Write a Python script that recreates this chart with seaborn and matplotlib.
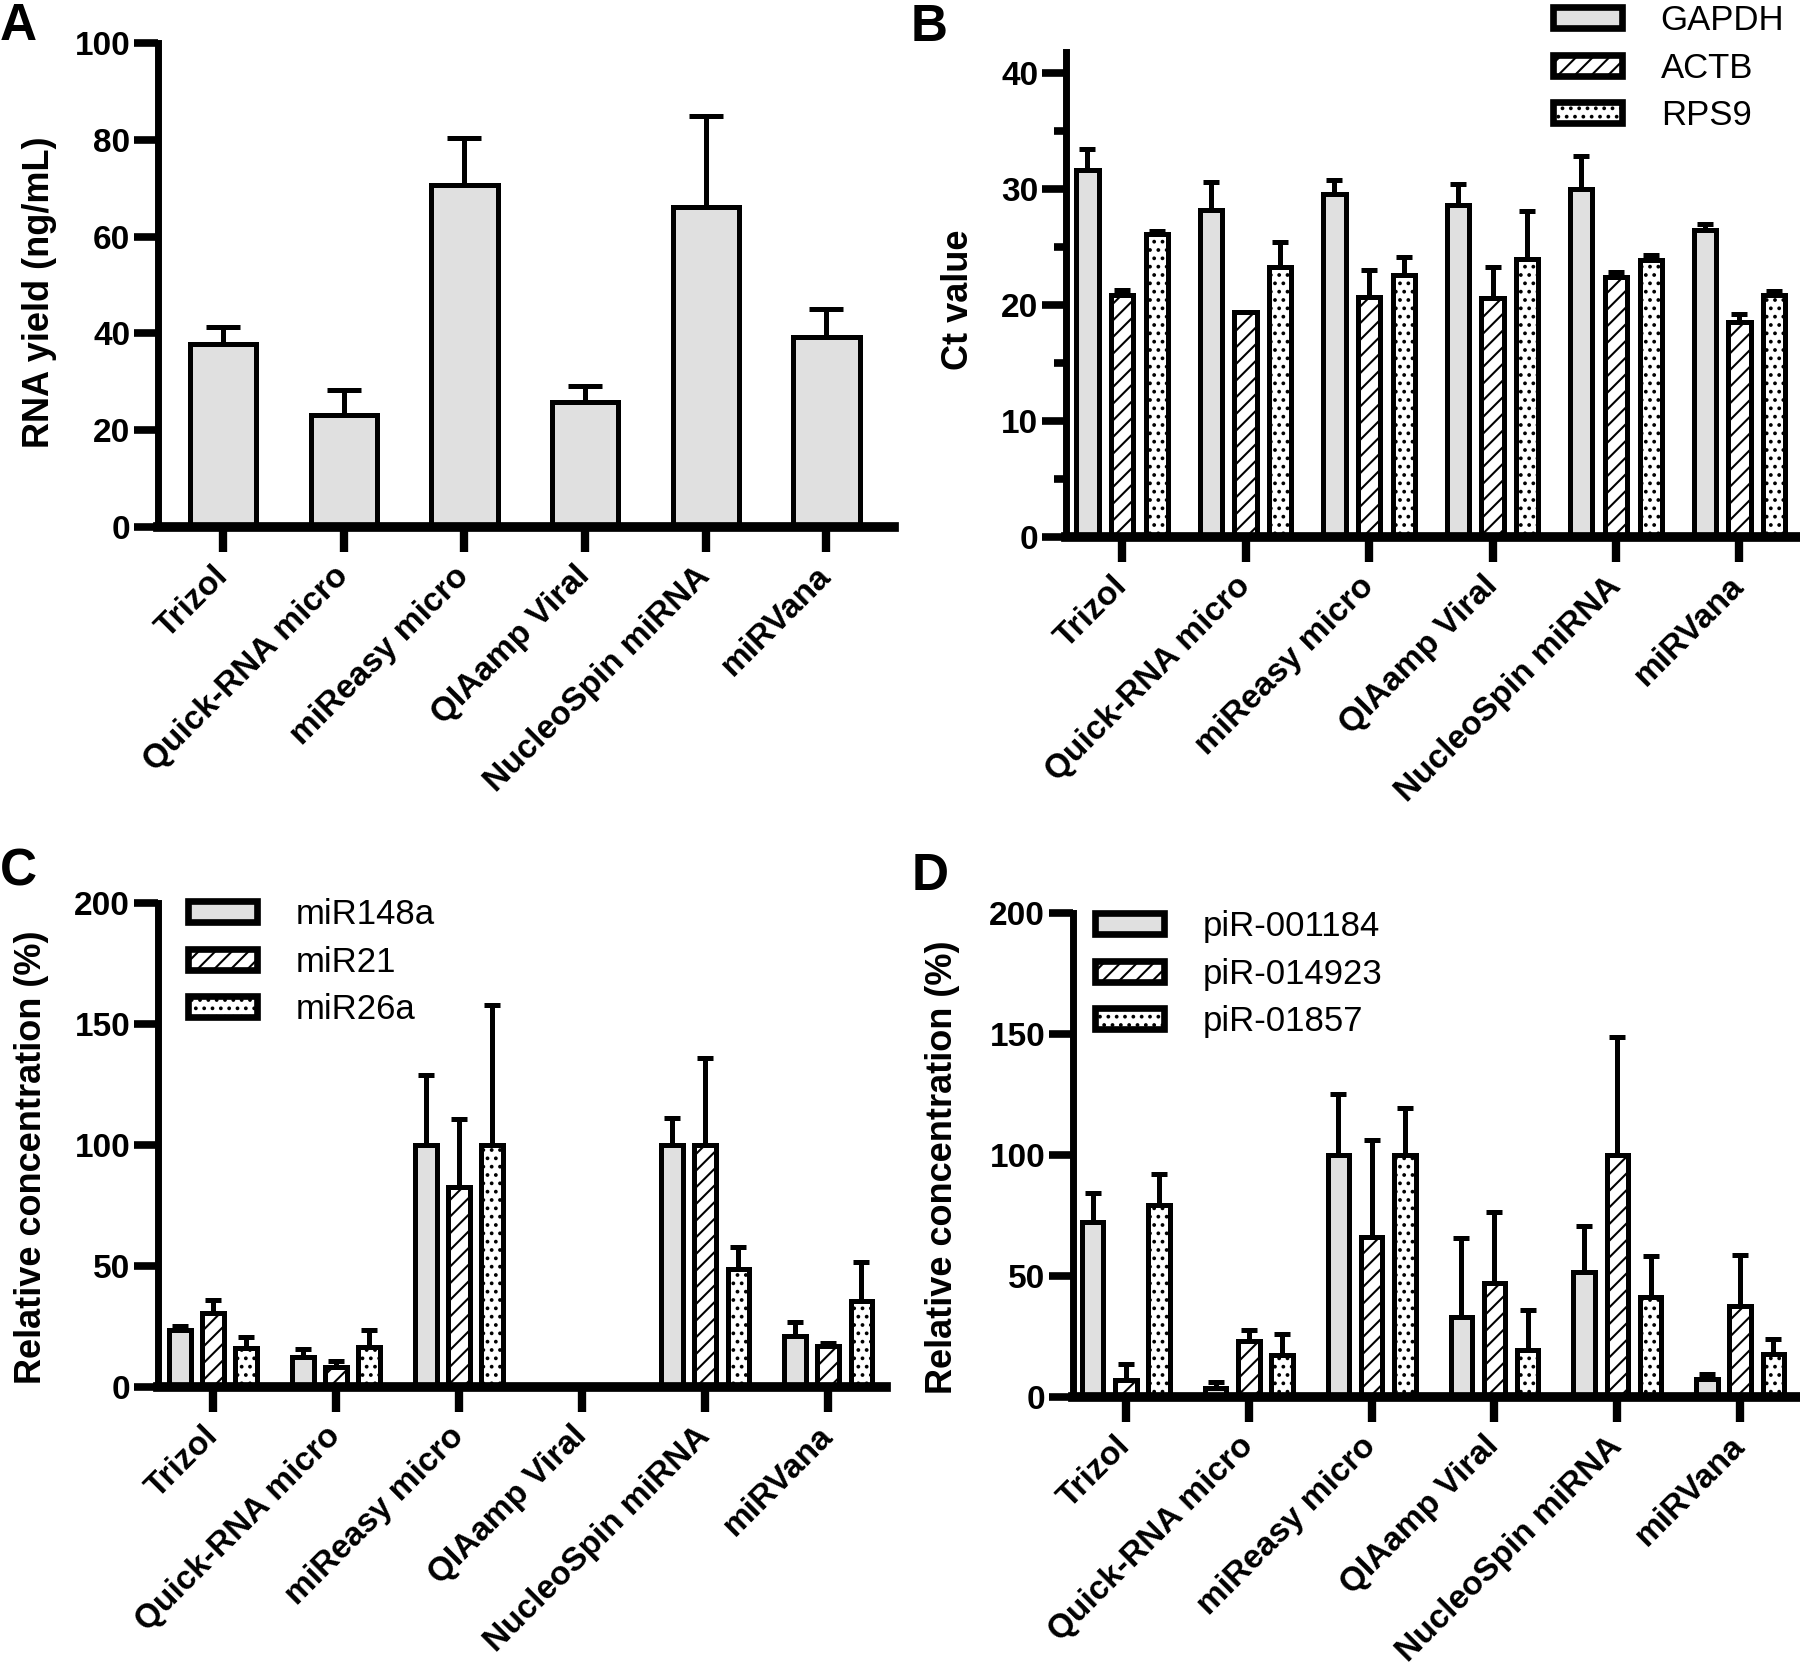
import matplotlib
matplotlib.use("Agg")
import matplotlib.pyplot as plt
import seaborn as sns
import pandas as pd
import numpy as np
from matplotlib.ticker import FixedLocator
from matplotlib.container import BarContainer

# ---------------- data ----------------
methods = ["Trizol", "Quick-RNA micro", "miReasy micro", "QIAamp Viral",
           "NucleoSpin miRNA", "miRVana"]

# Panel A: RNA yield (ng/mL)
yield_mean = [37.8, 23.2, 70.7, 25.8, 66.2, 39.3]
yield_sd = [3.6, 5.1, 9.6, 3.4, 18.7, 5.7]

# Panel B: Ct values
ref_genes = ["GAPDH", "ACTB", "RPS9"]
gapdh_ct = [31.6, 28.2, 29.6, 28.6, 30.0, 26.5]
gapdh_sd = [1.8, 2.4, 1.2, 1.8, 2.8, 0.5]
actb_ct = [20.9, 19.4, 20.7, 20.6, 22.4, 18.5]
actb_sd = [0.4, 0.0, 2.3, 2.7, 0.4, 0.7]
rps9_ct = [26.1, 23.3, 22.6, 24.0, 23.9, 20.9]
rps9_sd = [0.3, 2.1, 1.5, 4.1, 0.4, 0.3]

# Panel C: miRNA relative concentration (%)
mirnas = ["miR148a", "miR21", "miR26a"]
mir148a = [23.5, 12.5, 100, 0, 100, 21.2]
mir148a_sd = [1.8, 3.1, 29, 0, 11, 5.5]
mir21 = [30.5, 8.4, 82.8, 0, 100, 17.0]
mir21_sd = [5.5, 2.2, 28, 0, 36, 1.0]
mir26a = [16.0, 16.4, 100, 0, 48.8, 35.5]
mir26a_sd = [4.7, 7.1, 58, 0, 8.9, 16.3]

# Panel D: piRNA relative concentration (%)
pirnas = ["piR-001184", "piR-014923", "piR-01857"]
pir001184 = [72.5, 3.9, 100, 33.0, 51.8, 7.3]
pir001184_sd = [11.7, 2.3, 25.2, 32.9, 18.9, 2.3]
pir014923 = [6.9, 23.0, 66.3, 47.3, 100, 37.8]
pir014923_sd = [6.9, 4.5, 40.0, 29.1, 48.7, 20.9]
pir01857 = [79.4, 17.2, 100, 19.3, 41.5, 17.9]
pir01857_sd = [12.7, 9.0, 19.6, 16.5, 16.9, 6.2]

# ---------------- style ----------------
sns.set_theme(style="ticks")
plt.rcParams["font.family"] = ["Liberation Sans", "DejaVu Sans"]
plt.rcParams["text.color"] = "black"
plt.rcParams["axes.labelcolor"] = "black"
plt.rcParams["hatch.linewidth"] = 1.5
plt.rcParams["hatch.color"] = "black"

W, H = 1800, 1678
fig = plt.figure(figsize=(W / 100, H / 100), dpi=100)

GRAY = "#e0e0e0"
EDGE_LW = 3.6
HATCHES = ["", "//", ".."]
LEG_FS = 25


def fx(px):
    return px / W


def fy(py):
    return 1 - py / H


def axes_at(left, right, top, bottom):
    return fig.add_axes([fx(left), fy(bottom), fx(right - left), (bottom - top) / H])


def style_axes(ax, ylim, yticks, xlim, minor=None):
    ax.set_ylim(*ylim)
    ax.set_xlim(*xlim)
    ax.set_yticks(yticks)
    ax.set_yticklabels([str(t) for t in yticks], fontsize=24, fontweight="bold")
    if minor is not None:
        ax.yaxis.set_minor_locator(FixedLocator(minor))
        ax.tick_params(axis="y", which="minor", length=9, width=5.5, color="black")
    ax.set_xticks(range(len(methods)))
    ax.set_xticklabels(methods, rotation=45, ha="right", va="center",
                       rotation_mode="anchor", fontsize=24, fontweight="bold")
    for s in ["top", "right"]:
        ax.spines[s].set_visible(False)
    ax.spines["left"].set_linewidth(5)
    ax.spines["bottom"].set_linewidth(7)
    ax.spines["left"].set_color("black")
    ax.spines["bottom"].set_color("black")
    ax.tick_params(axis="y", which="major", length=17, width=5.5, pad=3,
                   color="black", labelcolor="black")
    ax.tick_params(axis="x", which="major", length=18, width=6, pad=14,
                   color="black", labelcolor="black")
    ax.set_xlabel("")
    ax.set_facecolor("white")


def ylabel(ax, text, xc, yc):
    ax.set_ylabel(text, fontsize=26, fontweight="bold", color="black")
    ax.yaxis.label.set_verticalalignment("center")
    ax.yaxis.set_label_coords(fx(xc), fy(yc), transform=fig.transFigure)


def grouped(ax, series, vals, sds, width, gap, capsize, legend_pos):
    rows = []
    for s, v in zip(series, vals):
        for m, val in zip(methods, v):
            rows.append({"method": m, "series": s, "value": val})
    df = pd.DataFrame(rows)
    sns.barplot(data=df, x="method", y="value", hue="series", order=methods,
                hue_order=series, palette=[GRAY, "white", "white"],
                saturation=1, width=width, gap=gap, edgecolor="black",
                linewidth=EDGE_LW, errorbar=None, legend=False, ax=ax)
    bar_conts = [c for c in ax.containers if isinstance(c, BarContainer)]
    for cont, hatch, v, sd in zip(bar_conts, HATCHES, vals, sds):
        xs, ys, es = [], [], []
        for bar, val, e in zip(cont.patches, v, sd):
            bar.set_hatch(hatch)
            if e > 0:
                xs.append(bar.get_x() + bar.get_width() / 2)
                ys.append(val)
                es.append(e)
        ax.errorbar(xs, ys, yerr=[np.zeros(len(es)), es], fmt="none",
                    ecolor="black", elinewidth=3.6, capsize=capsize,
                    capthick=3.6, zorder=3)
    handles = [c.patches[0] for c in bar_conts]
    leg = ax.legend(handles, series, loc="upper left",
                    bbox_to_anchor=(fx(legend_pos[0]), fy(legend_pos[1])),
                    bbox_transform=fig.transFigure, frameon=False,
                    fontsize=LEG_FS, handlelength=2.0, handleheight=0.55,
                    handletextpad=1.1, labelspacing=0.42, borderpad=0,
                    borderaxespad=0, labelcolor="black")
    for h in leg.legend_handles:
        h.set_linewidth(4.8)


# ---------------- Panel A ----------------
axA = axes_at(158, 894, 43, 527)
sns.barplot(x=methods, y=yield_mean, color=GRAY, saturation=1, width=0.55,
            edgecolor="black", linewidth=EDGE_LW, errorbar=None, ax=axA)
barsA = [c for c in axA.containers if isinstance(c, BarContainer)][0].patches
axA.errorbar([b.get_x() + b.get_width() / 2 for b in barsA], yield_mean,
             yerr=[np.zeros(len(yield_sd)), yield_sd], fmt="none",
             ecolor="black", elinewidth=3.6, capsize=12, capthick=3.6, zorder=3)
style_axes(axA, (0, 100), [0, 20, 40, 60, 80, 100], (-0.54, 5.56))
ylabel(axA, "RNA yield (ng/mL)", 40, 292)

# ---------------- Panel B ----------------
axB = axes_at(1066, 1800, 52, 537)
grouped(axB, ref_genes, [gapdh_ct, actb_ct, rps9_ct],
        [gapdh_sd, actb_sd, rps9_sd], width=0.84, gap=0.36, capsize=6,
        legend_pos=(1553, 4))
style_axes(axB, (0, 41.8), [0, 10, 20, 30, 40], (-0.454, 5.49),
           minor=[5, 15, 25, 35])
ylabel(axB, "Ct value", 959, 300)

# ---------------- Panel C ----------------
axC = axes_at(158, 886, 903, 1387)
grouped(axC, mirnas, [mir148a, mir21, mir26a],
        [mir148a_sd, mir21_sd, mir26a_sd], width=0.81, gap=0.35, capsize=6,
        legend_pos=(188, 898))
style_axes(axC, (0, 200), [0, 50, 100, 150, 200], (-0.447, 5.47))
ylabel(axC, "Relative concentration (%)", 32, 1157)

# ---------------- Panel D ----------------
axD = axes_at(1073, 1798, 913, 1397)
grouped(axD, pirnas, [pir001184, pir014923, pir01857],
        [pir001184_sd, pir014923_sd, pir01857_sd], width=0.81, gap=0.35,
        capsize=6, legend_pos=(1095, 910))
style_axes(axD, (0, 200), [0, 50, 100, 150, 200], (-0.43, 5.47))
ylabel(axD, "Relative concentration (%)", 943, 1167)

# ---------------- panel letters ----------------
for letter, x, y in [("A", 0, 40), ("B", 911, 41), ("C", 0, 885), ("D", 912, 890)]:
    fig.text(fx(x), fy(y), letter, fontsize=37, fontweight="bold",
             ha="left", va="baseline", color="black")

fig.savefig("out.png", dpi=100, facecolor="white")
